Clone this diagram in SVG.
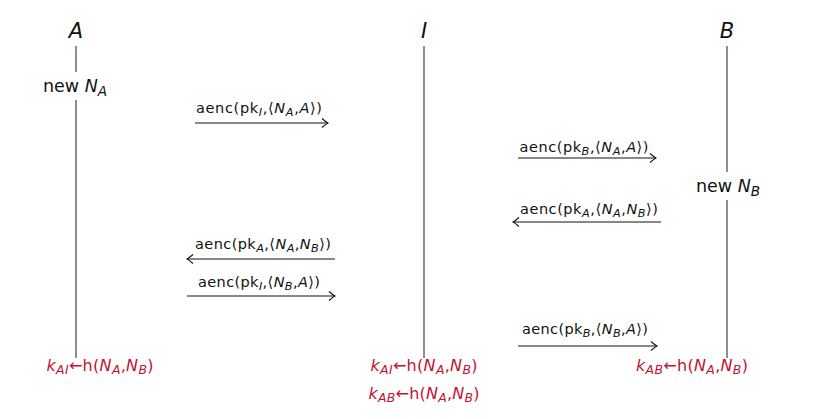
<svg xmlns="http://www.w3.org/2000/svg" width="831" height="419" viewBox="0 0 831 419">
<defs>
<marker id="ah" viewBox="-7 -5 8 10" markerWidth="8" markerHeight="10" refX="0" refY="0" orient="auto" markerUnits="userSpaceOnUse">
<path d="M-6,-4.5 Q-2,-1 0,0 Q-2,1 -6,4.5" fill="none" stroke="#111" stroke-width="1.1"/>
</marker>
<style>
text{font-family:"DejaVu Sans","Liberation Sans",sans-serif;fill:#111}
.hd{font-size:21px;font-style:italic;text-anchor:middle}
.nw{font-size:17.5px;text-anchor:middle}
.lb{font-size:14.5px;text-anchor:middle}
.rd{font-size:16px;text-anchor:middle;fill:#c41230}
.i{font-style:italic}
.s{font-size:78%}
.life{stroke:#444;stroke-width:1.2;fill:none}
.msg{stroke:#111;stroke-width:1.1;fill:none;marker-end:url(#ah)}
</style>
</defs>
<g id="A">
<text class="hd" x="76" y="38">A</text>
<line class="life" x1="76" y1="46" x2="76" y2="72"/>
<text class="nw" x="75" y="92">new <tspan class="i">N</tspan><tspan class="i s" dy="4">A</tspan></text>
<line class="life" x1="76" y1="100" x2="76" y2="358"/>
<text class="rd" x="100" y="371" textLength="107" lengthAdjust="spacing"><tspan class="i">k</tspan><tspan class="i s" dy="3">AI</tspan><tspan dy="-3">←h(</tspan><tspan class="i">N</tspan><tspan class="i s" dy="3">A</tspan><tspan dy="-3">,</tspan><tspan class="i">N</tspan><tspan class="i s" dy="3">B</tspan><tspan dy="-3">)</tspan></text>
</g>
<g id="I">
<text class="hd" x="424" y="38">I</text>
<line class="life" x1="424" y1="46" x2="424" y2="358"/>
<text class="rd" x="424" y="371" textLength="107" lengthAdjust="spacing"><tspan class="i">k</tspan><tspan class="i s" dy="3">AI</tspan><tspan dy="-3">←h(</tspan><tspan class="i">N</tspan><tspan class="i s" dy="3">A</tspan><tspan dy="-3">,</tspan><tspan class="i">N</tspan><tspan class="i s" dy="3">B</tspan><tspan dy="-3">)</tspan></text>
<text class="rd" x="424" y="399" textLength="111" lengthAdjust="spacing"><tspan class="i">k</tspan><tspan class="i s" dy="3">AB</tspan><tspan dy="-3">←h(</tspan><tspan class="i">N</tspan><tspan class="i s" dy="3">A</tspan><tspan dy="-3">,</tspan><tspan class="i">N</tspan><tspan class="i s" dy="3">B</tspan><tspan dy="-3">)</tspan></text>
</g>
<g id="B">
<text class="hd" x="727" y="38">B</text>
<line class="life" x1="727" y1="46" x2="727" y2="172"/>
<text class="nw" x="728" y="192">new <tspan class="i">N</tspan><tspan class="i s" dy="4">B</tspan></text>
<line class="life" x1="727" y1="200" x2="727" y2="358"/>
<text class="rd" x="692" y="371" textLength="112" lengthAdjust="spacing"><tspan class="i">k</tspan><tspan class="i s" dy="3">AB</tspan><tspan dy="-3">←h(</tspan><tspan class="i">N</tspan><tspan class="i s" dy="3">A</tspan><tspan dy="-3">,</tspan><tspan class="i">N</tspan><tspan class="i s" dy="3">B</tspan><tspan dy="-3">)</tspan></text>
</g>
<g id="connectors">
<line class="msg" x1="195" y1="123" x2="328" y2="123"/>
<text class="lb" x="259" y="113" textLength="126" lengthAdjust="spacing">aenc(pk<tspan class="i s" dy="3">I</tspan><tspan dy="-3">,⟨</tspan><tspan class="i">N</tspan><tspan class="i s" dy="3">A</tspan><tspan dy="-3">,</tspan><tspan class="i">A</tspan>⟩)</text>
<line class="msg" x1="518" y1="158" x2="656" y2="158"/>
<text class="lb" x="584" y="152" textLength="129" lengthAdjust="spacing">aenc(pk<tspan class="i s" dy="3">B</tspan><tspan dy="-3">,⟨</tspan><tspan class="i">N</tspan><tspan class="i s" dy="3">A</tspan><tspan dy="-3">,</tspan><tspan class="i">A</tspan>⟩)</text>
<line class="msg" x1="661" y1="222" x2="513" y2="222"/>
<text class="lb" x="589" y="214" textLength="138" lengthAdjust="spacing">aenc(pk<tspan class="i s" dy="3">A</tspan><tspan dy="-3">,⟨</tspan><tspan class="i">N</tspan><tspan class="i s" dy="3">A</tspan><tspan dy="-3">,</tspan><tspan class="i">N</tspan><tspan class="i s" dy="3">B</tspan><tspan dy="-3">⟩)</tspan></text>
<line class="msg" x1="335" y1="259" x2="187" y2="259"/>
<text class="lb" x="263" y="249" textLength="136" lengthAdjust="spacing">aenc(pk<tspan class="i s" dy="3">A</tspan><tspan dy="-3">,⟨</tspan><tspan class="i">N</tspan><tspan class="i s" dy="3">A</tspan><tspan dy="-3">,</tspan><tspan class="i">N</tspan><tspan class="i s" dy="3">B</tspan><tspan dy="-3">⟩)</tspan></text>
<line class="msg" x1="187" y1="296" x2="335" y2="296"/>
<text class="lb" x="259" y="287" textLength="122" lengthAdjust="spacing">aenc(pk<tspan class="i s" dy="3">I</tspan><tspan dy="-3">,⟨</tspan><tspan class="i">N</tspan><tspan class="i s" dy="3">B</tspan><tspan dy="-3">,</tspan><tspan class="i">A</tspan>⟩)</text>
<line class="msg" x1="518" y1="346" x2="657" y2="346"/>
<text class="lb" x="585" y="334" textLength="126" lengthAdjust="spacing">aenc(pk<tspan class="i s" dy="3">B</tspan><tspan dy="-3">,⟨</tspan><tspan class="i">N</tspan><tspan class="i s" dy="3">B</tspan><tspan dy="-3">,</tspan><tspan class="i">A</tspan>⟩)</text>
</g>
</svg>
